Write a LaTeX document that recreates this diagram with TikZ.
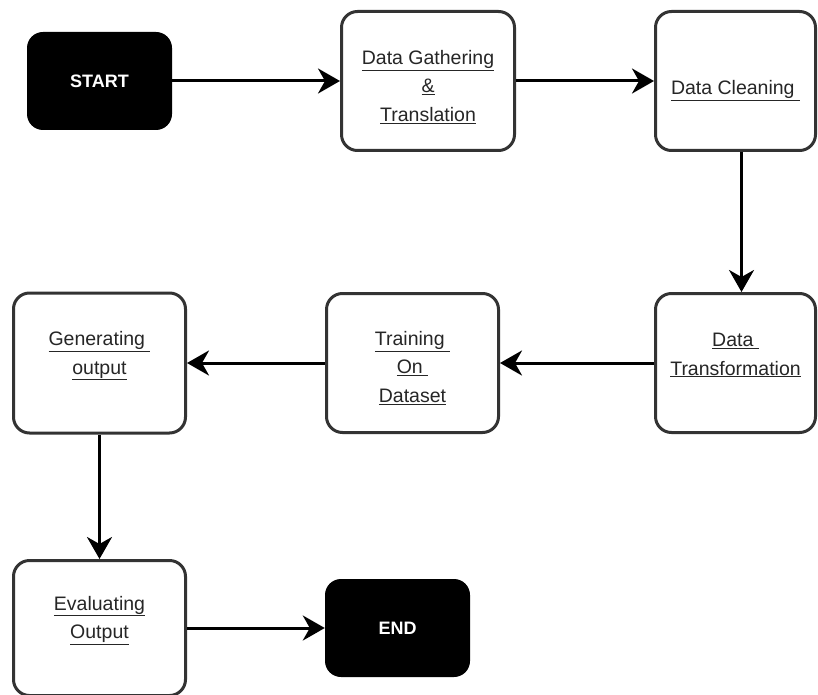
\documentclass[tikz,border=0pt]{standalone}
\usepackage{fontspec}
\setmainfont{Liberation Sans}
\usetikzlibrary{arrows.meta}

\newcommand{\pad}[1]{\rule{0pt}{#1pt}}

\begin{document}
\begin{tikzpicture}[x=1pt, y=-1pt,
    box/.style={draw=black!80, line width=3pt, rounded corners=16pt, fill=white, text=black!85, align=center, inner sep=0pt, font=\fontsize{19.5}{28.5}\selectfont},
    term/.style={fill=black, rounded corners=16pt, text=white, inner sep=0pt, minimum width=145pt, minimum height=98pt, font=\fontsize{18}{20}\selectfont\bfseries},
    flow/.style={line width=3pt, -{Stealth[length=22pt, width=25pt, inset=7pt]}}]
    \useasboundingbox (0,0) rectangle (818,695);

    \node[term] (start) at (99.5, 81) {START};
    \node[box, minimum width=173pt, minimum height=139pt] (gather) at (428, 81) {\pad{26}\underline{Data Gathering}\\\underline{\&}\\\underline{Translation}};
    \node[box, minimum width=160pt, minimum height=139pt] (clean) at (735.5, 81) {\pad{34}\underline{Data Cleaning\ }};
    \node[box, minimum width=160pt, minimum height=139pt] (trans) at (735.5, 363) {\pad{24}\underline{Data\ }\\\underline{Transformation}\\\mbox{}};
    \node[box, minimum width=172pt, minimum height=139pt] (train) at (412.5, 363) {\pad{24}\underline{Training\ }\\\underline{On\ }\\\underline{Dataset}};
    \node[box, minimum width=172pt, minimum height=140pt] (gen) at (99.5, 363) {\pad{22}\underline{Generating\ }\\\underline{output}\\\mbox{}};
    \node[box, minimum width=172pt, minimum height=135pt] (eval) at (99.5, 628) {\pad{21}\underline{Evaluating}\\\underline{Output}\\\mbox{}};
    \node[term] (finish) at (397.5, 628) {END};

    \draw[flow] (start) -- (gather);
    \draw[flow] (gather) -- (clean);
    \draw[flow] ([xshift=6pt]clean.south) -- ([xshift=6pt]trans.north);
    \draw[flow] (trans) -- (train);
    \draw[flow] (train) -- (gen);
    \draw[flow] (gen) -- (eval);
    \draw[flow] (eval) -- (finish);
\end{tikzpicture}
\end{document}
